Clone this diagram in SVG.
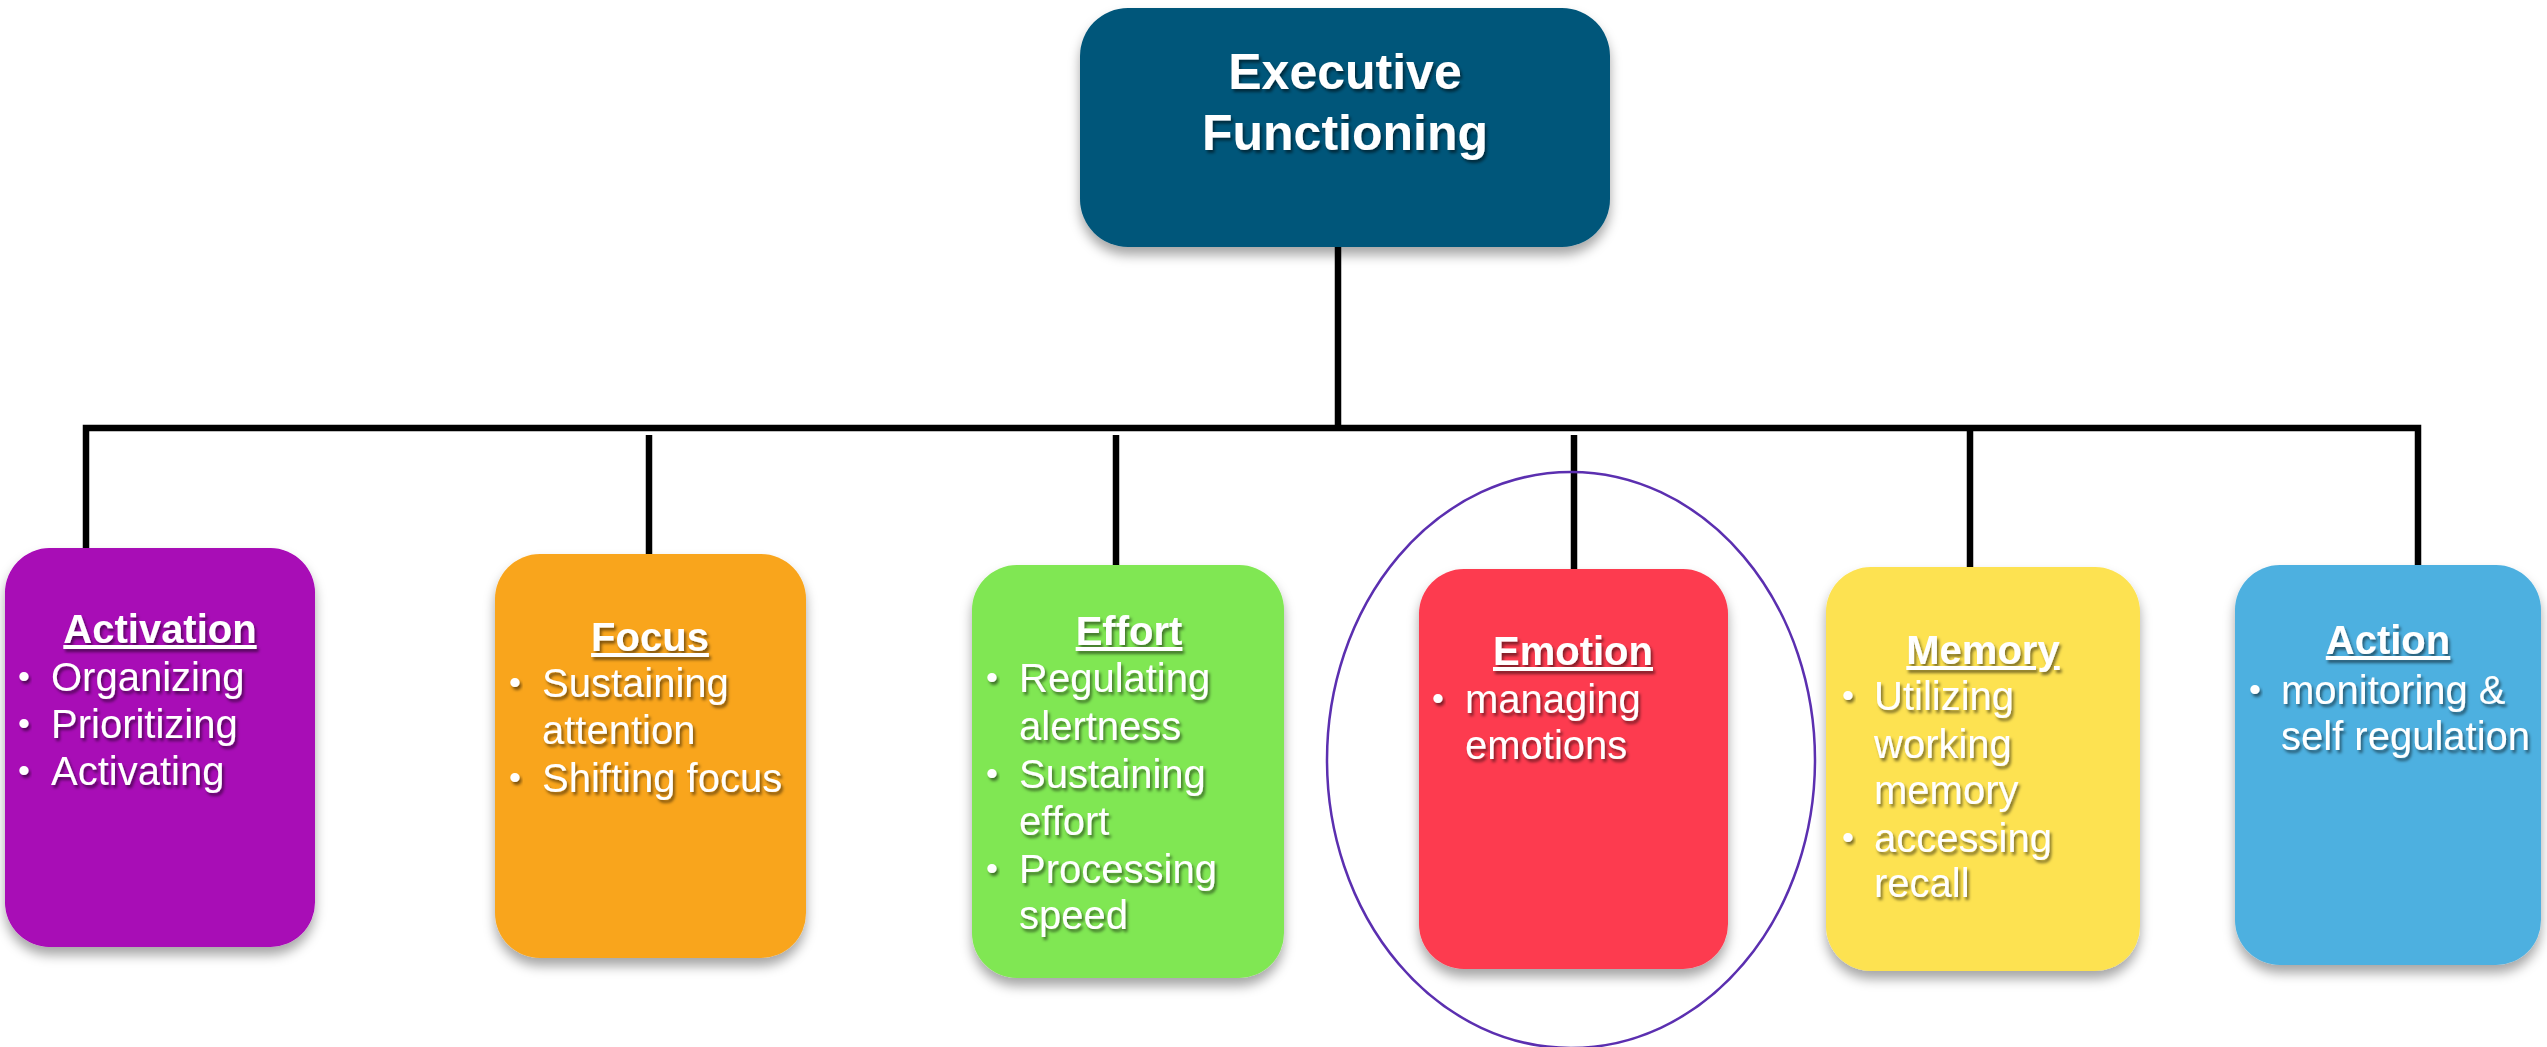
<svg xmlns="http://www.w3.org/2000/svg" width="2547" height="1047" viewBox="0 0 2547 1047">
  <defs>
    <filter id="boxShadow" x="-20%" y="-20%" width="140%" height="140%">
      <feDropShadow dx="0" dy="8" stdDeviation="6" flood-color="#000" flood-opacity="0.35"/>
    </filter>
    <filter id="textShadow" x="-10%" y="-30%" width="120%" height="160%">
      <feDropShadow dx="2" dy="3" stdDeviation="1.6" flood-color="#000" flood-opacity="0.5"/>
    </filter>
  </defs>
  <style>
    .box { filter: url(#boxShadow); }
    .lbl { font-family: "Liberation Sans", Arial, Helvetica, sans-serif; fill: #ffffff; filter: url(#textShadow); }
    .root { font-size: 50px; font-weight: bold; text-anchor: middle; }
    .title { font-size: 40px; font-weight: bold; text-anchor: middle; text-decoration: underline; }
    .item { font-size: 40px; }
    .bullet { font-size: 34px; text-anchor: middle; }
    .wire { stroke: #000; stroke-width: 6.5; fill: none; }
  </style>
  <rect width="2547" height="1047" fill="#ffffff"/>

  <!-- tree connectors -->
  <g id="connectors">
    <line class="wire" x1="1338" y1="247" x2="1338" y2="428"/>
    <polyline class="wire" points="86,549 86,428 2418,428 2418,565"/>
    <line class="wire" x1="649" y1="435" x2="649" y2="555"/>
    <line class="wire" x1="1116" y1="435" x2="1116" y2="566"/>
    <line class="wire" x1="1574" y1="435" x2="1574" y2="570"/>
    <line class="wire" x1="1970" y1="428" x2="1970" y2="568"/>
  </g>

  <!-- root -->
  <g id="executive-functioning">
    <rect class="box" x="1080" y="8" width="530" height="239" rx="48" fill="#04567a"/>
    <text class="lbl root" x="1345" y="89">Executive</text>
    <text class="lbl root" x="1345" y="150">Functioning</text>
  </g>

  <g id="activation">
    <rect class="box" x="5" y="548" width="310" height="399" rx="45" fill="#a807b6"/>
    <text class="lbl title" x="160" y="643">Activation</text>
    <text class="lbl bullet" x="24" y="688">•</text>
    <text class="lbl item" x="51" y="691">Organizing</text>
    <text class="lbl bullet" x="24" y="735">•</text>
    <text class="lbl item" x="51" y="738">Prioritizing</text>
    <text class="lbl bullet" x="24" y="782">•</text>
    <text class="lbl item" x="51" y="785">Activating</text>
  </g>

  <g id="focus">
    <rect class="box" x="495" y="554" width="311" height="404" rx="45" fill="#f9a51d"/>
    <text class="lbl title" x="650" y="651">Focus</text>
    <text class="lbl bullet" x="515" y="694">•</text>
    <text class="lbl item" x="542" y="697">Sustaining</text>
    <text class="lbl item" x="542" y="744">attention</text>
    <text class="lbl bullet" x="515" y="789">•</text>
    <text class="lbl item" x="542" y="792">Shifting focus</text>
  </g>

  <g id="effort">
    <rect class="box" x="972" y="565" width="312" height="413" rx="45" fill="#80e752"/>
    <text class="lbl title" x="1129" y="645">Effort</text>
    <text class="lbl bullet" x="992" y="689">•</text>
    <text class="lbl item" x="1019" y="692">Regulating</text>
    <text class="lbl item" x="1019" y="740">alertness</text>
    <text class="lbl bullet" x="992" y="785">•</text>
    <text class="lbl item" x="1019" y="788">Sustaining</text>
    <text class="lbl item" x="1019" y="835">effort</text>
    <text class="lbl bullet" x="992" y="880">•</text>
    <text class="lbl item" x="1019" y="883">Processing</text>
    <text class="lbl item" x="1019" y="929">speed</text>
  </g>

  <g id="emotion">
    <rect class="box" x="1419" y="569" width="309" height="400" rx="45" fill="#fd3a4f"/>
    <text class="lbl title" x="1573" y="665">Emotion</text>
    <text class="lbl bullet" x="1438" y="710">•</text>
    <text class="lbl item" x="1465" y="713">managing</text>
    <text class="lbl item" x="1465" y="759">emotions</text>
  </g>

  <g id="memory">
    <rect class="box" x="1826" y="567" width="314" height="404" rx="45" fill="#fde251"/>
    <text class="lbl title" x="1983" y="664">Memory</text>
    <text class="lbl bullet" x="1848" y="707">•</text>
    <text class="lbl item" x="1874" y="710">Utilizing</text>
    <text class="lbl item" x="1874" y="758">working</text>
    <text class="lbl item" x="1874" y="804">memory</text>
    <text class="lbl bullet" x="1848" y="849">•</text>
    <text class="lbl item" x="1874" y="852">accessing</text>
    <text class="lbl item" x="1874" y="897">recall</text>
  </g>

  <g id="action">
    <rect class="box" x="2235" y="565" width="306" height="400" rx="45" fill="#4eb0e0"/>
    <text class="lbl title" x="2388" y="654">Action</text>
    <text class="lbl bullet" x="2255" y="701">•</text>
    <text class="lbl item" x="2281" y="704">monitoring &amp;</text>
    <text class="lbl item" x="2281" y="750">self regulation</text>
  </g>

  <!-- highlight ring around the emotion branch -->
  <g id="emotion-highlight">
    <ellipse cx="1571" cy="760" rx="244" ry="288" fill="none" stroke="#5b2fb0" stroke-width="2.5"/>
  </g>
</svg>
